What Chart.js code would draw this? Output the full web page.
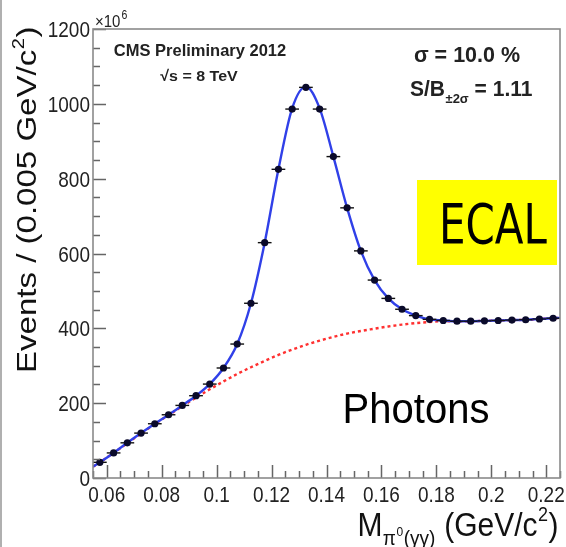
<!DOCTYPE html>
<html>
<head>
<meta charset="utf-8">
<script src="https://cdn.jsdelivr.net/npm/chart.js@4.4.1/dist/chart.umd.min.js"></script>
<style>
  html, body { margin: 0; padding: 0; background: #fff; }
  #wrap { width: 566px; height: 547px; }
</style>
</head>
<body>
<div id="wrap"><canvas id="pi0Chart" width="566" height="547"></canvas></div>
<script>
// --- pi0 mass peak, ECAL photons ---

// bin centres (GeV/c^2), width 0.005
const binCenters = [0.0575, 0.0625, 0.0675, 0.0725, 0.0775, 0.0825, 0.0875, 0.0925, 0.0975, 0.1025,
  0.1075, 0.1125, 0.1175, 0.1225, 0.1275, 0.1325, 0.1375, 0.1425, 0.1475, 0.1525,
  0.1575, 0.1625, 0.1675, 0.1725, 0.1775, 0.1825, 0.1875, 0.1925, 0.1975, 0.2025,
  0.2075, 0.2125, 0.2175, 0.2225];
const binHalfWidth = 0.0025;

// events per bin (x10^6)
const events = [42, 67, 94, 120, 145, 169, 194, 220, 251, 294,
  358, 467, 629, 825, 986, 1044, 986, 859, 722, 607,
  529, 480, 451, 434, 424, 421, 419, 419, 420, 421,
  422, 423, 425, 427];

// fit curves read at the axis edges plus every bin centre
const curveX = [0.055, 0.0575, 0.0625, 0.0675, 0.0725, 0.0775, 0.0825, 0.0875, 0.0925, 0.0975, 0.1025,
  0.1075, 0.1125, 0.1175, 0.1225, 0.1275, 0.1325, 0.1375, 0.1425, 0.1475, 0.1525,
  0.1575, 0.1625, 0.1675, 0.1725, 0.1775, 0.1825, 0.1875, 0.1925, 0.1975, 0.2025,
  0.2075, 0.2125, 0.2175, 0.2225, 0.225];
const fitTotal = [30, 42, 67, 94, 120, 145, 169, 194, 220, 251, 294,
  358, 467, 629, 825, 988, 1046, 988, 859, 722, 607,
  529, 480, 451, 434, 424, 421, 419, 419, 420, 421,
  422, 423, 425, 427, 428];
const fitBkg = [30, 42, 67, 93, 119, 144, 168, 192, 215, 237, 258,
  278, 296, 313, 329, 343, 356, 367, 377, 386, 393,
  399, 405, 410, 414, 417, 419, 419, 419, 420, 421,
  422, 423, 425, 427, 428];

// axes
const xMin = 0.055, xMax = 0.225;
const yMin = 0, yMax = 1200;
const xMajorTicks = [0.06, 0.08, 0.1, 0.12, 0.14, 0.16, 0.18, 0.2, 0.22];
const xTickLabels = ['0.06', '0.08', '0.1', '0.12', '0.14', '0.16', '0.18', '0.2', '0.22'];
const xMinorStep = 0.005;
const yMajorTicks = [0, 200, 400, 600, 800, 1000, 1200];
const yTickLabels = ['0', '200', '400', '600', '800', '1000', '1200'];
const yMinorStep = 50;

const FONT = '"Liberation Sans", Arial, Helvetica, sans-serif';

function toPoints(xs, ys) {
    return xs.map((x, i) => ({ x: x, y: ys[i] }));
}

// text with a vertical stretch (the reference picture is a bit tall)
function drawText(ctx, txt, x, y, size, opts) {
    opts = opts || {};
    ctx.save();
    ctx.translate(x, y);
    ctx.scale(1, opts.sy || 1);
    ctx.font = (opts.bold ? 'bold ' : '') + size + 'px ' + (opts.family || FONT);
    ctx.fillStyle = opts.color || '#111';
    ctx.textAlign = opts.align || 'left';
    ctx.textBaseline = 'alphabetic';
    if (!opts.dry) ctx.fillText(txt, 0, 0);
    const w = ctx.measureText(txt).width;
    ctx.restore();
    return w;
}

// x title pieces: [text, size, baseline]
const xTitleParts = [
    ['M', 30, 536], ['\u03c0', 19, 545], ['0', 12, 536], ['(\u03b3\u03b3)', 19, 545],
    [' (GeV/c', 30, 536], ['2', 18, 521], [')', 30, 536]
];

const errorBars = {
    id: 'errorBars',
    beforeDatasetDraw(chart, args) {
        if (args.index !== 0) return;
        const { ctx, scales: { x, y } } = chart;
        ctx.save();
        ctx.strokeStyle = '#111';
        ctx.lineWidth = 1.4;
        binCenters.forEach((c, i) => {
            const py = y.getPixelForValue(events[i]);
            ctx.beginPath();
            ctx.moveTo(x.getPixelForValue(c - binHalfWidth), py);
            ctx.lineTo(x.getPixelForValue(c + binHalfWidth), py);
            ctx.stroke();
        });
        ctx.restore();
    }
};

const rootFrame = {
    id: 'rootFrame',
    afterDatasetsDraw(chart) {
        const { ctx, chartArea: a, scales: { x, y } } = chart;
        ctx.save();

        // slide border on the far left
        ctx.strokeStyle = '#b0b0b0';
        ctx.lineWidth = 2;
        ctx.beginPath();
        ctx.moveTo(1, 0);
        ctx.lineTo(1, chart.height);
        ctx.stroke();

        // ticks, inside the frame
        ctx.strokeStyle = '#666';
        ctx.lineWidth = 1.5;
        ctx.beginPath();
        for (let v = xMin; v <= xMax + 1e-9; v += xMinorStep) {
            const isMajor = xMajorTicks.some(t => Math.abs(t - v) < 1e-6);
            const px = Math.round(x.getPixelForValue(v)) + 0.5;
            ctx.moveTo(px, a.bottom);
            ctx.lineTo(px, a.bottom - (isMajor ? 13 : 7));
        }
        for (let v = yMin; v <= yMax; v += yMinorStep) {
            const isMajor = yMajorTicks.includes(v);
            const py = Math.round(y.getPixelForValue(v)) + 0.5;
            ctx.moveTo(a.left, py);
            ctx.lineTo(a.left + (isMajor ? 13 : 7), py);
        }
        ctx.stroke();

        // frame
        ctx.strokeStyle = '#8a8a8a';
        ctx.lineWidth = 1.6;
        ctx.strokeRect(a.left, a.top, a.right - a.left, a.bottom - a.top);

        // tick labels
        xMajorTicks.forEach((t, i) => {
            drawText(ctx, xTickLabels[i], x.getPixelForValue(t), 502, 19, { sy: 1.15, align: 'center', color: '#222' });
        });
        yMajorTicks.forEach((t, i) => {
            drawText(ctx, yTickLabels[i], 90, y.getPixelForValue(t) + 8, 19, { sy: 1.15, align: 'right', color: '#222' });
        });
        let w = drawText(ctx, '\u00d710', 95, 27, 15, { sy: 1.15, color: '#222' });
        drawText(ctx, '6', 95 + w + 1, 19, 10.5, { sy: 1.15, color: '#222' });

        // x title, right aligned to the frame end
        let total = 0;
        xTitleParts.forEach(p => { total += drawText(ctx, p[0], 0, 0, p[1], { dry: true }) + 0.5; });
        let tx = 559 - total;
        xTitleParts.forEach(p => { tx += drawText(ctx, p[0], tx, p[2], p[1], { sy: 1.08 }) + 0.5; });

        // y title, rotated
        const yt1 = 'Events / (0.005 GeV/c', yt2 = '2', yt3 = ')';
        ctx.save();
        ctx.translate(36, 373);
        ctx.rotate(-Math.PI / 2);
        ctx.scale(1.18, 1);
        ctx.fillStyle = '#111';
        ctx.textBaseline = 'alphabetic';
        ctx.font = '28px ' + FONT;
        ctx.fillText(yt1, 0, 0);
        let off = ctx.measureText(yt1).width;
        ctx.font = '17px ' + FONT;
        ctx.fillText(yt2, off + 0.5, -12);
        off += ctx.measureText(yt2).width + 1;
        ctx.font = '28px ' + FONT;
        ctx.fillText(yt3, off, 0);
        ctx.restore();

        // CMS labels
        drawText(ctx, 'CMS Preliminary 2012', 200, 56, 16.5, { bold: true, sy: 0.95, align: 'center', color: '#222' });
        drawText(ctx, '\u221as = 8 TeV', 199, 81, 16, { bold: true, sy: 0.95, align: 'center', color: '#222' });
        drawText(ctx, '\u03c3 = 10.0 %', 467, 62, 21.5, { bold: true, sy: 1.05, align: 'center', color: '#222' });
        tx = 410;
        w = drawText(ctx, 'S/B', tx, 96, 21, { bold: true, sy: 1.05, color: '#222' });
        tx += w + 0.5;
        w = drawText(ctx, '\u00b12\u03c3', tx, 103, 13, { bold: true, sy: 1.05, color: '#222' });
        tx += w;
        drawText(ctx, ' = 1.11', tx, 96, 21, { bold: true, sy: 1.05, color: '#222' });

        // slide overlays
        ctx.fillStyle = '#ffff00';
        ctx.fillRect(417, 180, 140, 85);
        drawText(ctx, 'ECAL', 493, 243, 42, { sy: 1.3, align: 'center', color: '#000', family: '"DejaVu Sans", sans-serif' });
        drawText(ctx, 'Photons', 416, 423, 40, { sy: 1.05, align: 'center', color: '#000' });

        ctx.restore();
    }
};

new Chart(document.getElementById('pi0Chart'), {
    type: 'scatter',
    data: {
        datasets: [
            {
                label: 'Data',
                data: toPoints(binCenters, events),
                backgroundColor: '#0a0a2a',
                borderColor: '#0a0a2a',
                pointRadius: 3.6,
                pointBorderWidth: 0,
                showLine: false
            },
            {
                label: 'Fit',
                data: toPoints(curveX, fitTotal),
                borderColor: '#3040e8',
                borderWidth: 2.4,
                pointRadius: 0,
                showLine: true,
                cubicInterpolationMode: 'monotone'
            },
            {
                label: 'Background',
                data: toPoints(curveX, fitBkg),
                borderColor: '#ff3030',
                borderWidth: 2.4,
                borderDash: [3, 3],
                pointRadius: 0,
                showLine: true,
                cubicInterpolationMode: 'monotone'
            }
        ]
    },
    options: {
        responsive: false,
        animation: false,
        devicePixelRatio: 1,
        layout: { padding: { left: 93, top: 29, right: 6, bottom: 69 } },
        scales: {
            x: { type: 'linear', min: xMin, max: xMax, display: false },
            y: { type: 'linear', min: yMin, max: yMax, display: false }
        },
        plugins: { legend: { display: false }, tooltip: { enabled: false } }
    },
    plugins: [errorBars, rootFrame]
});
</script>
</body>
</html>
